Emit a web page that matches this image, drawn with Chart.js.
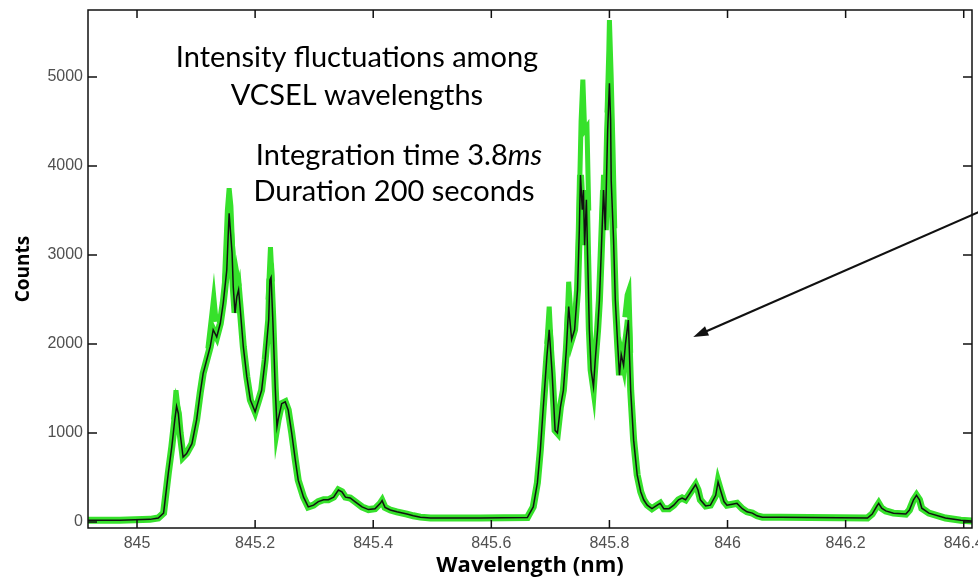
<!DOCTYPE html>
<html>
<head>
<meta charset="utf-8">
<script src="https://cdn.jsdelivr.net/npm/chart.js"></script>
<style>
  body { margin: 0; background: #fff; }
  #wrap { width: 978px; height: 581px; }
</style>
</head>
<body>
<div id="wrap"><canvas id="spectrum"></canvas></div>
<script>
// mean spectrum (black trace)
var wavelength = [844.917, 844.937, 844.971, 845.022, 845.036, 845.045, 845.053, 845.059, 845.064, 845.067,
  845.070, 845.073, 845.078, 845.084, 845.093, 845.101, 845.107, 845.112, 845.118, 845.124,
  845.129, 845.135, 845.141, 845.146, 845.152, 845.155, 845.156, 845.161, 845.163, 845.166,
  845.169, 845.172, 845.175, 845.180, 845.186, 845.192, 845.200, 845.206, 845.211, 845.217,
  845.223, 845.225, 845.227, 845.230, 845.234, 845.237, 845.239, 845.245, 845.251, 845.256,
  845.262, 845.268, 845.273, 845.282, 845.290, 845.299, 845.307, 845.316, 845.324, 845.333,
  845.341, 845.347, 845.353, 845.361, 845.369, 845.381, 845.392, 845.403, 845.412, 845.415,
  845.420, 845.429, 845.440, 845.457, 845.468, 845.480, 845.497, 845.514, 845.581, 845.661,
  845.671, 845.678, 845.683, 845.688, 845.694, 845.698, 845.703, 845.706, 845.708, 845.712,
  845.717, 845.722, 845.727, 845.731, 845.736, 845.741, 845.746, 845.749, 845.751, 845.754,
  845.756, 845.758, 845.761, 845.763, 845.766, 845.769, 845.773, 845.776, 845.780, 845.783,
  845.786, 845.790, 845.793, 845.797, 845.800, 845.802, 845.803, 845.807, 845.810, 845.814,
  845.817, 845.820, 845.824, 845.827, 845.831, 845.832, 845.836, 845.841, 845.847, 845.853,
  845.858, 845.864, 845.872, 845.881, 845.886, 845.892, 845.901, 845.909, 845.917, 845.923,
  845.929, 845.934, 845.940, 845.946, 845.950, 845.954, 845.963, 845.971, 845.980, 845.984,
  845.988, 845.994, 845.999, 846.008, 846.016, 846.025, 846.033, 846.042, 846.050, 846.059,
  846.090, 846.237, 846.245, 846.253, 846.256, 846.261, 846.268, 846.281, 846.302, 846.308,
  846.315, 846.320, 846.325, 846.329, 846.341, 846.369, 846.395, 846.415];
var meanCounts = [20, 20, 20, 30, 45, 100, 550, 850, 1150, 1300,
  1220, 1000, 730, 770, 880, 1150, 1450, 1670, 1820, 1970,
  2160, 2080, 2230, 2460, 2830, 3320, 3470, 3020, 2640, 2350,
  2530, 2610, 2380, 1970, 1630, 1370, 1240, 1370, 1480, 1820,
  2270, 2720, 2750, 2270, 1520, 1070, 1150, 1330, 1350, 1260,
  1000, 700, 470, 280, 170, 190, 230, 250, 250, 280,
  360, 340, 280, 270, 230, 170, 140, 150, 210, 240,
  165, 135, 115, 90, 70, 55, 45, 45, 45, 50,
  170, 440, 810, 1290, 1850, 2160, 1670, 1290, 1030, 1000,
  1290, 1480, 1930, 2420, 2050, 2160, 2610, 3280, 3900, 3510,
  3730, 3110, 3620, 3000, 2160, 1710, 1520, 1820, 2160, 2490,
  3000, 3730, 3280, 4400, 4930, 4520, 3840, 3170, 2490, 1990,
  1650, 1880, 1760, 1990, 2210, 2270, 1480, 920, 530, 340,
  250, 190, 150, 190, 210, 150, 150, 190, 250, 270,
  250, 300, 360, 420, 360, 250, 180, 190, 300, 450,
  360, 230, 190, 200, 210, 150, 115, 100, 70, 55,
  55, 45, 90, 180, 210, 155, 125, 100, 90, 135,
  250, 300, 250, 155, 100, 45, 20, 10];

// highest excursions of the individual scans (green), null = gap
var spikeWavelength = [845.062, 845.066, 845.070, 845.070,
  845.120, 845.127, 845.130, 845.134, 845.134,
  845.148, 845.153, 845.156, 845.159, 845.163, 845.166, 845.169, 845.173, 845.173,
  845.222, 845.226, 845.229, 845.229,
  845.694, 845.698, 845.702, 845.702,
  845.728, 845.731, 845.735, 845.735,
  845.747, 845.752, 845.755, 845.758, 845.762, 845.765, 845.765,
  845.787, 845.790, 845.793, 845.793,
  845.796, 845.799, 845.800, 845.803, 845.806, 845.809, 845.809,
  845.826, 845.830, 845.833, 845.836];
var spikeCounts = [1150, 1480, 1250, null,
  1950, 2350, 2530, 2250, null,
  2700, 3500, 3750, 3550, 2900, 2600, 2800, 2650, null,
  2500, 3090, 2700, null,
  2000, 2420, 1900, null,
  2200, 2700, 2300, null,
  3000, 4500, 4970, 4400, 4440, 3500, null,
  3300, 3900, 3500, null,
  4600, 5300, 5640, 5000, 4210, 3300, null,
  2300, 2550, 2610, 1900];

var xTicks = [845, 845.2, 845.4, 845.6, 845.8, 846, 846.2, 846.4];
var yTicks = [0, 1000, 2000, 3000, 4000, 5000];

var notes = ['Intensity fluctuations among', 'VCSEL wavelengths', 'Integration time 3.8', 'Duration 200 seconds'];
var arrowFrom = [846.446, 3543];
var arrowTo = [845.942, 2080];

var meanData = wavelength.map(function (w, i) { return { x: w, y: meanCounts[i] }; });
var spikeData = spikeWavelength.map(function (w, i) { return { x: w, y: spikeCounts[i] }; });

var frame = {
  id: 'frame',
  afterDatasetsDraw: function (chart) {
    var ctx = chart.ctx, a = chart.chartArea;
    var xs = chart.scales.x, ys = chart.scales.y;
    ctx.save();
    ctx.strokeStyle = '#111';
    ctx.lineWidth = 1.5;
    ctx.strokeRect(a.left, a.top, a.right - a.left, a.bottom - a.top);
    ctx.beginPath();
    xTicks.forEach(function (v) {
      var px = xs.getPixelForValue(v);
      ctx.moveTo(px, a.bottom); ctx.lineTo(px, a.bottom - 8);
      ctx.moveTo(px, a.top); ctx.lineTo(px, a.top + 8);
    });
    yTicks.forEach(function (v) {
      var py = ys.getPixelForValue(v);
      ctx.moveTo(a.left, py); ctx.lineTo(a.left + 9, py);
      ctx.moveTo(a.right, py); ctx.lineTo(a.right - 9, py);
    });
    ctx.stroke();

    // arrow
    var x1 = xs.getPixelForValue(arrowFrom[0]), y1 = ys.getPixelForValue(arrowFrom[1]);
    var x2 = xs.getPixelForValue(arrowTo[0]), y2 = ys.getPixelForValue(arrowTo[1]);
    var ang = Math.atan2(y2 - y1, x2 - x1);
    ctx.lineWidth = 2.2;
    ctx.beginPath();
    ctx.moveTo(x1, y1);
    ctx.lineTo(x2 - 10 * Math.cos(ang), y2 - 10 * Math.sin(ang));
    ctx.stroke();
    ctx.fillStyle = '#111';
    ctx.beginPath();
    ctx.moveTo(x2, y2);
    ctx.lineTo(x2 - 15 * Math.cos(ang) + 5 * Math.sin(ang), y2 - 15 * Math.sin(ang) - 5 * Math.cos(ang));
    ctx.lineTo(x2 - 15 * Math.cos(ang) - 5 * Math.sin(ang), y2 - 15 * Math.sin(ang) + 5 * Math.cos(ang));
    ctx.closePath();
    ctx.fill();

    // text notes
    ctx.fillStyle = '#000';
    ctx.textBaseline = 'alphabetic';
    ctx.textAlign = 'center';
    ctx.font = '29px Lato';
    ctx.fillText(notes[0], 357, 67);
    ctx.fillText(notes[1], 357, 105);
    ctx.fillText(notes[3], 394, 201);
    // line with italic "ms"
    ctx.textAlign = 'left';
    var w1 = ctx.measureText(notes[2]).width;
    ctx.font = 'italic 29px Lato';
    var w2 = ctx.measureText('ms').width;
    var sx = 399 - (w1 + w2) / 2;
    ctx.font = '29px Lato';
    ctx.fillText(notes[2], sx, 165);
    ctx.font = 'italic 29px Lato';
    ctx.fillText('ms', sx + w1, 165);
    ctx.restore();
  }
};

var ctx = document.getElementById('spectrum');
var spectrumChart = new Chart(ctx, {
  type: 'line',
  data: {
    datasets: [{
      label: 'mean',
      data: meanData,
      borderColor: '#111',
      borderWidth: 1.5,
      pointRadius: 0,
      tension: 0,
      order: 0
    }, {
      label: 'scans',
      data: meanData,
      borderColor: '#36e12b',
      borderWidth: 7,
      pointRadius: 0,
      tension: 0,
      order: 2
    }, {
      label: 'scan peaks',
      data: spikeData,
      borderColor: '#36e12b',
      borderWidth: 5,
      pointRadius: 0,
      tension: 0,
      spanGaps: false,
      order: 1
    }]
  },
  options: {
    responsive: true,
    maintainAspectRatio: false,
    animation: false,
    layout: { padding: { top: 10, right: 6, bottom: 0, left: 0 } },
    plugins: { legend: { display: false }, tooltip: { enabled: false } },
    scales: {
      x: {
        type: 'linear',
        min: 844.917,
        max: 846.414,
        grid: { display: false, drawTicks: false },
        border: { display: false },
        afterBuildTicks: function (s) { s.ticks = xTicks.map(function (v) { return { value: v }; }); },
        afterFit: function (s) { s.height = 53; s.paddingLeft = 0; s.paddingRight = 0; },
        ticks: {
          padding: 6,
          color: '#505050',
          font: { family: 'Liberation Sans', size: 16 },
          callback: function (v) { return String(v); }
        },
        title: {
          display: true,
          text: 'Wavelength (nm)',
          color: '#000',
          font: { family: 'Open Sans', size: 22, weight: 'bold' },
          padding: { top: 0, bottom: 2 }
        }
      },
      y: {
        min: -67,
        max: 5753,
        grid: { display: false, drawTicks: false },
        border: { display: false },
        afterBuildTicks: function (s) { s.ticks = yTicks.map(function (v) { return { value: v }; }); },
        afterFit: function (s) { s.width = 88; s.paddingTop = 0; s.paddingBottom = 0; },
        ticks: {
          padding: 5,
          color: '#505050',
          font: { family: 'Liberation Sans', size: 16 },
          callback: function (v) { return String(v); }
        },
        title: {
          display: true,
          text: 'Counts',
          color: '#000',
          font: { family: 'Open Sans', size: 19, weight: 'bold' },
          padding: { top: 12, bottom: 0 }
        }
      }
    }
  },
  plugins: [frame]
});
</script>
</body>
</html>
